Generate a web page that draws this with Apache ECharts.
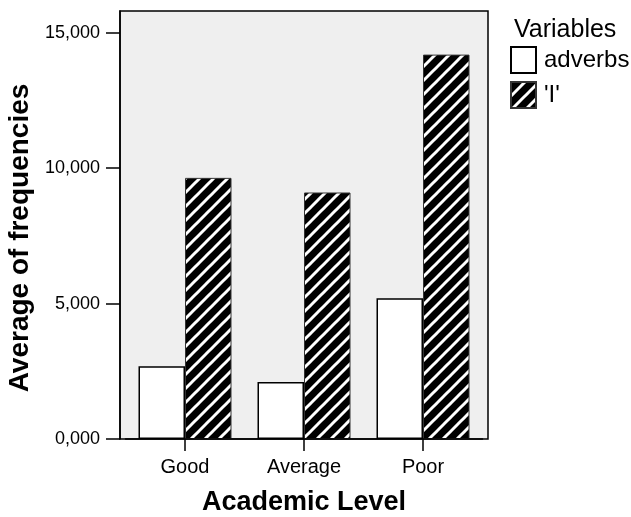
<!DOCTYPE html>
<html>
<head>
<meta charset="utf-8">
<script src="https://cdn.jsdelivr.net/npm/echarts@6/dist/echarts.min.js"></script>
<style>
html,body{margin:0;padding:0;background:#fff;}
#chart{width:631px;height:517px;}
</style>
</head>
<body>
<div id="chart"></div>
<script>
// ---- data ----
const categories = ['Good', 'Average', 'Poor'];
const seriesNames = ['adverbs', "'I'"];
const adverbs = [2690, 2100, 5200];
const iValues = [9640, 9100, 14190];
const yTickLabels = ['0,000', '5,000', '10,000', '15,000'];
const legendTitle = 'Variables';
const xTitle = 'Academic Level';
const yTitle = 'Average of frequencies';

// ---- hatch pattern (white "/" stripes on black) ----
function makeHatch() {
  const s = 14;
  const c = document.createElement('canvas');
  c.width = s; c.height = s;
  const ctx = c.getContext('2d');
  ctx.fillStyle = '#000';
  ctx.fillRect(0, 0, s, s);
  ctx.strokeStyle = '#fff';
  ctx.lineWidth = 3;
  [0, s, 2 * s].forEach(function (k) {
    ctx.beginPath();
    ctx.moveTo(k + 2, -2);
    ctx.lineTo(k - s - 2, s + 2);
    ctx.stroke();
  });
  return c;
}
const hatch = { image: makeHatch(), repeat: 'repeat' };

const FONT = "'Liberation Sans', Arial, sans-serif";
const chart = echarts.init(document.getElementById('chart'), null, { renderer: 'canvas' });

chart.setOption({
  animation: false,
  backgroundColor: '#fff',
  textStyle: { fontFamily: FONT, color: '#000' },
  title: {
    text: legendTitle,
    left: 514,
    top: 18,
    padding: 0,
    textStyle: { fontFamily: FONT, fontSize: 25, fontWeight: 'normal', color: '#000' }
  },
  legend: {
    orient: 'vertical',
    left: 510,
    top: 46,
    padding: 0,
    itemWidth: 25,
    itemHeight: 26,
    itemGap: 7,
    icon: 'rect',
    data: seriesNames,
    textStyle: { fontFamily: FONT, fontSize: 24, color: '#000', padding: [0, 0, 0, 3] }
  },
  grid: [
    { left: 120, right: 631 - 488, top: 11, bottom: 517 - 439, show: true,
      backgroundColor: '#efefef', borderColor: '#000', borderWidth: 1.5,
      containLabel: false, outerBoundsMode: 'none' },
    { left: 125.5, right: 631 - 482.5, top: 11, bottom: 517 - 439, show: false,
      containLabel: false, outerBoundsMode: 'none' }
  ],
  xAxis: [
    { gridIndex: 0, type: 'category', data: categories, show: false },
    {
      gridIndex: 1, type: 'category', data: categories,
      name: xTitle, nameLocation: 'middle', nameGap: 50, nameMoveOverlap: false,
      nameTextStyle: { fontFamily: FONT, fontSize: 27, fontWeight: 'bold', color: '#000' },
      axisLine: { show: true, lineStyle: { color: '#000', width: 1.5 } },
      axisTick: { show: true, alignWithLabel: true, length: 12, lineStyle: { color: '#000', width: 1.5 } },
      axisLabel: { fontFamily: FONT, fontSize: 20, color: '#000', margin: 18 },
      z: 10
    }
  ],
  yAxis: [
    {
      gridIndex: 0, type: 'value', min: 0, max: 15800, interval: 5000,
      name: yTitle, nameLocation: 'middle', nameGap: 86, nameMoveOverlap: false,
      nameTextStyle: { fontFamily: FONT, fontSize: 28, fontWeight: 'bold', color: '#000', padding: [0, 26, 0, 0] },
      axisLine: { show: true, lineStyle: { color: '#000', width: 1.5 } },
      axisTick: { show: true, length: 14, lineStyle: { color: '#000', width: 1.5 } },
      axisLabel: {
        fontFamily: FONT, fontSize: 18, color: '#000', margin: 20, showMaxLabel: false,
        formatter: function (v) { return yTickLabels[Math.round(v / 5000)]; }
      },
      splitLine: { show: false }
    },
    { gridIndex: 1, type: 'value', min: 0, max: 15800, interval: 5000, show: false, splitLine: { show: false } }
  ],
  series: [
    {
      name: seriesNames[0], type: 'bar', xAxisIndex: 1, yAxisIndex: 1,
      data: adverbs, barWidth: 46.5, barGap: '0%',
      itemStyle: { color: '#fff', borderColor: '#000', borderWidth: 1.5 }
    },
    {
      name: seriesNames[1], type: 'bar', xAxisIndex: 1, yAxisIndex: 1,
      data: iValues, barWidth: 46.5, barGap: '0%',
      itemStyle: { color: hatch, borderColor: '#333', borderWidth: 1 }
    }
  ]
});
</script>
</body>
</html>
